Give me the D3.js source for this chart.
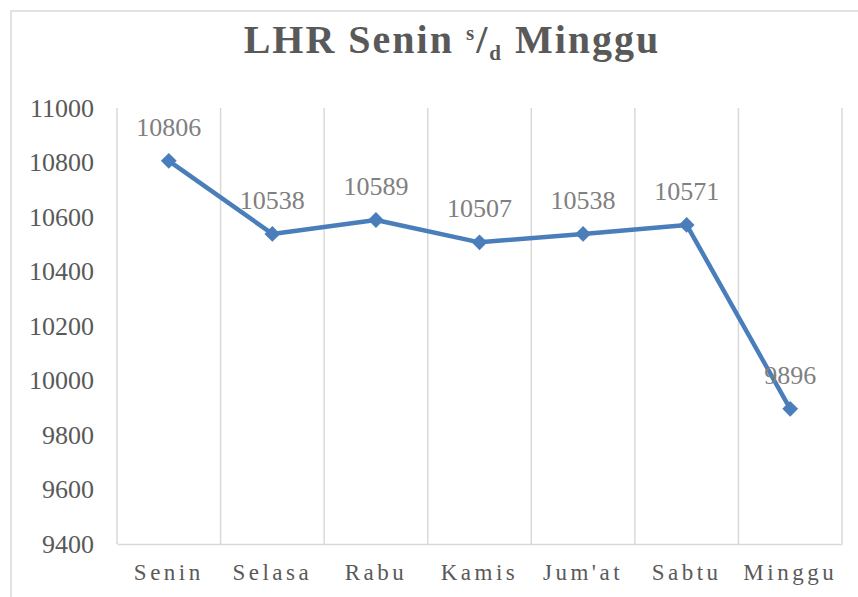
<!DOCTYPE html>
<html>
<head>
<meta charset="utf-8">
<script src="https://cdn.jsdelivr.net/npm/d3@7"></script>
<style>
  body { margin: 0; background: #fff; }
  svg { display: block; }
</style>
</head>
<body>
<div id="chart"></div>
<script>
    // data
    const days = ['Senin', 'Selasa', 'Rabu', 'Kamis', "Jum'at", 'Sabtu', 'Minggu'];
    const lhr = [10806, 10538, 10589, 10507, 10538, 10571, 9896];
    const yTicks = [9400, 9600, 9800, 10000, 10200, 10400, 10600, 10800, 11000];

    const
        width = 858,
        height = 597,
        plot = { left: 117, right: 842, top: 108, bottom: 544 },
        serif = '"Liberation Serif", "Times New Roman", serif',
        lineColor = '#4a7ebb',
        gridColor = '#d9d9d9';

    const svg = d3.select('#chart')
        .append('svg')
        .attr('width', width)
        .attr('height', height);

    // outer chart border (cropped on right and bottom)
    svg.append('rect')
        .attr('x', 11)
        .attr('y', 11)
        .attr('width', 900)
        .attr('height', 700)
        .style('fill', 'none')
        .style('stroke', gridColor)
        .style('stroke-width', 1.5);

    const x = d3.scaleBand()
        .domain(days)
        .range([plot.left, plot.right])
        .padding(0);

    const y = d3.scaleLinear()
        .domain([9400, 11000])
        .range([plot.bottom, plot.top]);

    // title
    const title = svg.append('text')
        .attr('x', 452)
        .attr('y', 53)
        .attr('text-anchor', 'middle')
        .style('font-family', serif)
        .style('font-weight', 700)
        .style('font-size', '40px')
        .style('letter-spacing', '2px')
        .style('fill', '#595959');
    title.append('tspan').text('LHR Senin ');
    title.append('tspan').attr('dy', -13).style('font-size', '21px').text('s');
    title.append('tspan').attr('dy', 13).text('/');
    title.append('tspan').attr('dy', 7).style('font-size', '21px').text('d');
    title.append('tspan').attr('dy', -7).text(' Minggu');

    // vertical gridlines at category boundaries
    const bounds = days.map(d => x(d)).concat([x.range()[1]]);
    svg.append('g')
        .selectAll('line')
        .data(bounds)
        .join('line')
        .attr('x1', d => d)
        .attr('x2', d => d)
        .attr('y1', plot.top)
        .attr('y2', plot.bottom)
        .style('stroke', gridColor)
        .style('stroke-width', 1.5);

    // y axis
    const yAxis = svg.append('g')
        .attr('transform', `translate(${plot.left},0)`)
        .call(d3.axisLeft(y).tickValues(yTicks).tickSize(0).tickPadding(23).tickFormat(d3.format('d')));
    yAxis.select('.domain').remove();
    yAxis.selectAll('text')
        .style('font-family', serif)
        .style('font-size', '26px')
        .style('fill', '#595959');

    // x axis
    const xAxis = svg.append('g')
        .attr('transform', `translate(0,${plot.bottom})`)
        .call(d3.axisBottom(x).tickSize(0).tickPadding(20));
    xAxis.select('.domain')
        .style('stroke', gridColor)
        .style('stroke-width', 1.5);
    xAxis.selectAll('text')
        .style('font-family', serif)
        .style('font-size', '23px')
        .style('letter-spacing', '3.5px')
        .style('fill', '#595959');

    const cx = d => x(d) + x.bandwidth() / 2;

    // line
    svg.append('path')
        .datum(lhr)
        .attr('d', d3.line().x((v, i) => cx(days[i])).y(v => y(v)))
        .style('fill', 'none')
        .style('stroke', lineColor)
        .style('stroke-width', 4.5)
        .style('stroke-linejoin', 'round');

    // diamond markers
    svg.append('g')
        .selectAll('path')
        .data(lhr)
        .join('path')
        .attr('d', d3.symbol(d3.symbolSquare, 125))
        .attr('transform', (v, i) => `translate(${cx(days[i])},${y(v)}) rotate(45)`)
        .style('fill', lineColor);

    // data labels
    svg.append('g')
        .selectAll('text')
        .data(lhr)
        .join('text')
        .attr('x', (v, i) => cx(days[i]))
        .attr('y', v => y(v) - 25)
        .attr('text-anchor', 'middle')
        .style('font-family', serif)
        .style('font-size', '26px')
        .style('fill', '#808080')
        .text(v => v);
</script>
</body>
</html>
